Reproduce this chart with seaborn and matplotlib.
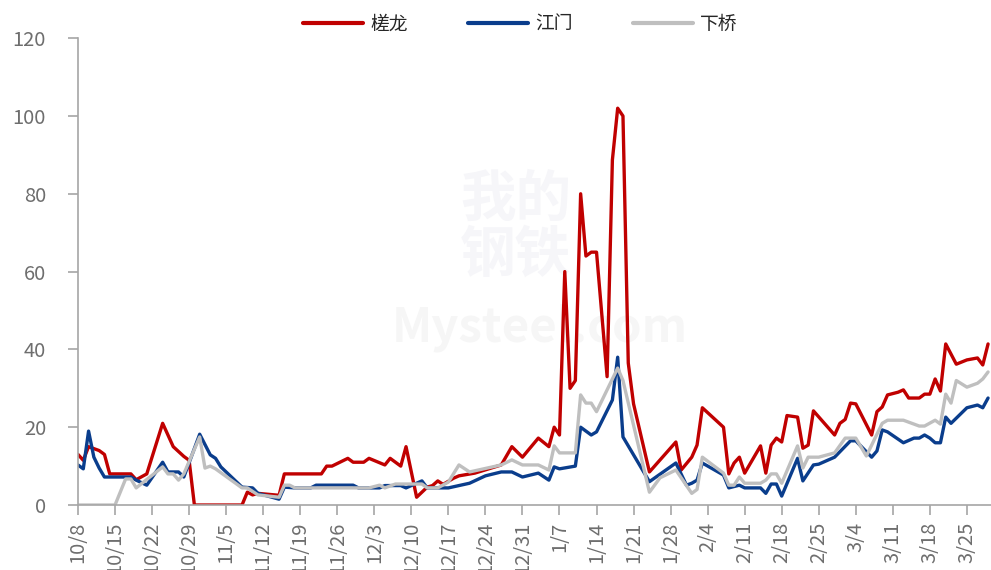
import pandas as pd
import seaborn as sns
import matplotlib.pyplot as plt
import matplotlib.dates as mdates

# dates as month-day; Oct-Dec are 2024, Jan-Mar are 2025
cl_dates = ["10-08", "10-09", "10-10", "10-12", "10-13", "10-14", "10-18", "10-19", "10-21", "10-24",
            "10-26", "10-28", "10-29", "10-30", "11-08", "11-09", "11-10", "11-11", "11-15", "11-16",
            "11-23", "11-24", "11-25", "11-28", "11-29", "12-01", "12-02", "12-05", "12-06", "12-08",
            "12-09", "12-11", "12-13", "12-14", "12-15", "12-16", "12-18", "12-19", "12-22", "12-27",
            "12-29", "12-31", "01-03", "01-05", "01-06", "01-07", "01-08", "01-09", "01-10", "01-11",
            "01-12", "01-13", "01-14", "01-16", "01-17", "01-18", "01-19", "01-20", "01-21", "01-24",
            "01-29", "01-30", "02-01", "02-02", "02-03", "02-07", "02-08", "02-09", "02-10", "02-11",
            "02-14", "02-15", "02-16", "02-17", "02-18", "02-19", "02-21", "02-22", "02-23", "02-24",
            "02-28", "03-01", "03-02", "03-03", "03-04", "03-07", "03-08", "03-09", "03-10", "03-12",
            "03-13", "03-14", "03-16", "03-17", "03-18", "03-19", "03-20", "03-21", "03-23", "03-25",
            "03-27", "03-28", "03-29"]
cl_vals = [13, 11.5, 15, 14, 13, 8, 8, 6.5, 8, 21,
           15, 12.5, 11.5, 0, 0, 3.3, 2.6, 3, 2.5, 8,
           8, 10, 10, 12, 11, 11, 12, 10.3, 12, 10,
           15, 2, 4.6, 5, 6.2, 5.3, 6.9, 7.5, 8.2, 10.3,
           15, 12.3, 17.2, 15, 20, 18, 60, 30, 32, 80,
           64, 65, 65, 33, 88.7, 102, 100, 36.5, 26, 8.5,
           16.2, 9, 12.3, 15.4, 25, 20, 8, 10.8, 12.3, 8.2,
           15.2, 8.2, 15.4, 17.2, 16.2, 23, 22.6, 14.6, 15.4, 24.2,
           18, 21, 22, 26.2, 26, 18, 24, 25.2, 28.3, 29,
           29.6, 27.5, 27.5, 28.5, 28.5, 32.4, 29.3, 41.4, 36.2, 37.3,
           37.8, 36, 41.4]

jm_dates = ["10-08", "10-09", "10-10", "10-11", "10-12", "10-13", "10-18", "10-19", "10-21", "10-24",
            "10-25", "10-27", "10-28", "10-31", "11-02", "11-03", "11-04", "11-08", "11-10", "11-11",
            "11-15", "11-16", "11-18", "11-21", "11-22", "11-29", "11-30", "12-04", "12-05", "12-08",
            "12-09", "12-10", "12-12", "12-13", "12-17", "12-21", "12-24", "12-27", "12-29", "12-31",
            "01-03", "01-05", "01-06", "01-07", "01-10", "01-11", "01-13", "01-14", "01-17", "01-18",
            "01-19", "01-24", "01-29", "01-31", "02-01", "02-02", "02-03", "02-07", "02-08", "02-10",
            "02-11", "02-14", "02-15", "02-16", "02-17", "02-18", "02-21", "02-22", "02-24", "02-25",
            "02-28", "03-03", "03-04", "03-07", "03-08", "03-09", "03-10", "03-13", "03-15", "03-16",
            "03-17", "03-18", "03-19", "03-20", "03-21", "03-22", "03-25", "03-27", "03-28", "03-29"]
jm_vals = [10.3, 9.3, 19, 12.3, 9.5, 7.2, 7.2, 6.4, 5.1, 11,
           8.5, 8.5, 7.2, 18.2, 12.9, 12, 9.8, 4.6, 4.4, 3,
           1.5, 4.6, 4.4, 4.4, 5.1, 5.1, 4.4, 4.4, 5, 5,
           4.4, 5, 6.2, 4.4, 4.4, 5.6, 7.5, 8.5, 8.5, 7.2,
           8.2, 6.4, 9.8, 9.3, 10, 20, 18, 18.8, 27, 38,
           17.5, 6, 10.8, 5.1, 5.6, 6.4, 10.8, 7.7, 4.4, 5.1,
           4.4, 4.4, 3, 5.4, 5.4, 2.3, 12, 6.2, 10.3, 10.5,
           12.3, 16.5, 16.5, 12.3, 13.9, 19.3, 18.8, 16, 17.2, 17.2,
           18, 17.2, 16, 16, 22.6, 21, 25, 25.7, 25, 27.5]

xq_dates = ["10-08", "10-15", "10-17", "10-18", "10-19", "10-24", "10-25", "10-26", "10-27", "10-28",
            "10-31", "11-01", "11-02", "11-03", "11-08", "11-09", "11-11", "11-15", "11-16", "11-17",
            "11-18", "12-02", "12-04", "12-05", "12-07", "12-12", "12-13", "12-15", "12-17", "12-19",
            "12-21", "12-27", "12-29", "12-31", "01-03", "01-05", "01-06", "01-07", "01-10", "01-11",
            "01-12", "01-13", "01-14", "01-18", "01-19", "01-24", "01-26", "01-29", "01-30", "02-01",
            "02-02", "02-03", "02-07", "02-08", "02-09", "02-10", "02-11", "02-14", "02-15", "02-16",
            "02-17", "02-18", "02-21", "02-22", "02-23", "02-25", "02-28", "03-02", "03-04", "03-06",
            "03-09", "03-10", "03-13", "03-16", "03-17", "03-19", "03-20", "03-21", "03-22", "03-23",
            "03-25", "03-27", "03-28", "03-29"]
xq_vals = [0, 0, 6.7, 6.7, 4.4, 9.8, 8, 8, 6.4, 8,
           17.5, 9.5, 10, 9.3, 4.4, 4.4, 2.6, 2, 5.1, 5.1,
           4.4, 4.4, 5.1, 4.4, 5.4, 5.4, 4.4, 4.4, 5.9, 10.3,
           8.5, 10.3, 11.6, 10.3, 10.3, 9, 15.2, 13.4, 13.4, 28.3,
           26.2, 26.2, 24, 35.2, 32, 3.3, 7, 9, 7, 3,
           4, 12.3, 8.2, 5.1, 5.1, 7.2, 5.6, 5.6, 6.4, 8,
           8, 5.6, 15.2, 9.5, 12.3, 12.3, 13.4, 17.2, 17.2, 12.6,
           21, 21.8, 21.8, 20.3, 20.3, 21.8, 20.8, 28.5, 26.2, 32,
           30.3, 31.3, 32.4, 34.2]

names = ["槎龙", "江门", "下桥"]
colors = ["#C00000", "#0A3D8C", "#BFBFBF"]
yticks = [0, 20, 40, 60, 80, 100, 120]


def to_date(md):
    year = "2024" if md[:2] in ("10", "11", "12") else "2025"
    return pd.Timestamp(f"{year}-{md}")


frames = []
for name, ds, vs in zip(names, [cl_dates, jm_dates, xq_dates], [cl_vals, jm_vals, xq_vals]):
    frames.append(pd.DataFrame({"date": [to_date(d) for d in ds], "value": vs, "city": name}))
df = pd.concat(frames, ignore_index=True)

sns.set_theme(style="white")
plt.rcParams["font.family"] = ["Noto Sans CJK SC", "DejaVu Sans"]

fig = plt.figure(figsize=(9.91, 5.70), dpi=100)
ax = fig.add_axes([0.0787, 0.114, 0.921, 0.819])
ax.set_zorder(2)
ax.patch.set_alpha(0)

# faint watermark, behind the axes
fig.text(0.52, 0.60, "我的\n钢铁", fontsize=40, color="#F6F6F9", ha="center", va="center",
         linespacing=1.0, fontweight="bold", zorder=0)
fig.text(0.545, 0.425, "Mysteel.com", fontsize=34, color="#F6F6F6", ha="center", va="center",
         fontweight="bold", zorder=0)

sns.lineplot(data=df, x="date", y="value", hue="city", hue_order=names,
             palette=dict(zip(names, colors)), linewidth=2.4, ax=ax, legend=False)

ax.set_xlim(to_date("10-08"), to_date("03-29") + pd.Timedelta(hours=12))
ax.set_ylim(0, 120)
ax.set_yticks(yticks)
ax.set_xticks(pd.date_range(to_date("10-08"), to_date("03-29"), freq="7D"))
ax.xaxis.set_major_formatter(mdates.DateFormatter("%-m/%-d"))
ax.set_xlabel("")
ax.set_ylabel("")

for side in ["top", "right"]:
    ax.spines[side].set_visible(False)
for side in ["left", "bottom"]:
    ax.spines[side].set_color("#A6A6A6")
    ax.spines[side].set_linewidth(1.2)

ax.tick_params(axis="x", which="major", direction="out", length=7, width=1.2, pad=5,
               color="#A6A6A6", labelcolor="#6E6E6E", labelsize=14.5, labelrotation=90, bottom=True)
ax.tick_params(axis="y", which="major", direction="out", length=7, width=1.2,
               color="#A6A6A6", labelcolor="#6E6E6E", labelsize=14.5, left=True, pad=16)

handles = [plt.Line2D([], [], color=c, linewidth=3) for c in colors]
fig.legend(handles, names, loc="upper center", bbox_to_anchor=(0.525, 1.005), ncol=3,
           frameon=False, fontsize=13.5, handlelength=3.2, columnspacing=3.2, handletextpad=0.4)

fig.savefig("out.png", dpi=100)
